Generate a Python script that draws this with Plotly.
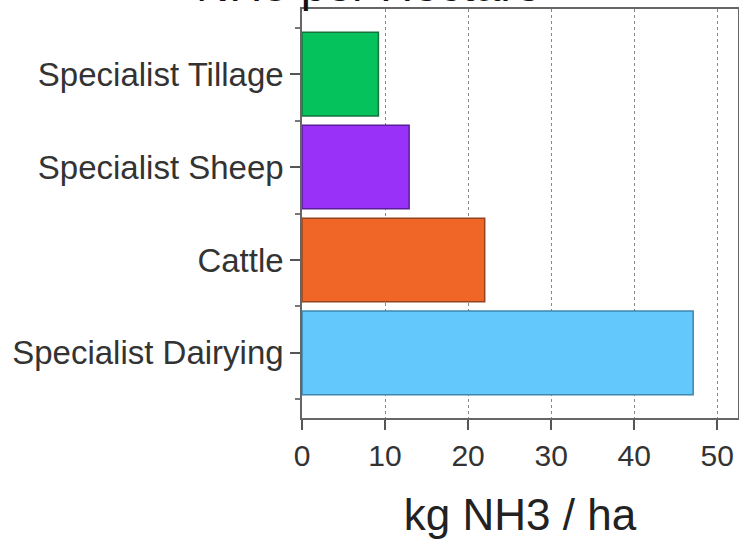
import plotly.graph_objects as go

categories = ["Specialist Dairying", "Cattle", "Specialist Sheep", "Specialist Tillage"]
values = [47.1, 22.0, 12.9, 9.2]
bar_colors = ["#63C8FC", "#EF6626", "#9A31F8", "#05C25C"]
edge_colors = ["#3C86AE", "#93441F", "#5A1E96", "#17733E"]
x_ticks = [0, 10, 20, 30, 40, 50]
title_text = "NH3 per Hectare"
x_title = "kg NH3 / ha"

positions = list(range(len(categories)))

fig = go.Figure(
    go.Bar(
        x=values,
        y=positions,
        orientation="h",
        width=0.9,
        marker=dict(color=bar_colors, line=dict(color=edge_colors, width=1.5)),
    )
)

font_family = "Arial, Liberation Sans, Helvetica, sans-serif"

fig.update_layout(
    width=739,
    height=541,
    paper_bgcolor="white",
    plot_bgcolor="white",
    margin=dict(l=302, r=1, t=9, b=123),
    showlegend=False,
    font=dict(family=font_family, color="#333333"),
    annotations=[
        dict(
            text=title_text,
            xref="paper",
            yref="paper",
            x=(368 - 302) / 436,
            xanchor="center",
            y=1 - 4 / 409,
            yanchor="bottom",
            showarrow=False,
            font=dict(size=46, color="#111111", family=font_family),
        )
    ],
)

fig.update_xaxes(
    automargin=False,
    range=[0, 52.5],
    tickvals=x_ticks,
    ticktext=[str(v) for v in x_ticks],
    ticks="outside",
    ticklen=10,
    tickwidth=1.5,
    tickcolor="#555555",
    tickfont=dict(size=30, color="#333333"),
    showline=True,
    linecolor="#666666",
    linewidth=1.5,
    mirror=True,
    showgrid=True,
    gridcolor="#888888",
    griddash="dot",
    gridwidth=1,
    zeroline=False,
    title=dict(text=x_title, font=dict(size=44, color="#222222"), standoff=28),
)

fig.update_yaxes(
    automargin=False,
    range=[-0.7, 3.7],
    tickvals=positions,
    ticktext=categories,
    ticks="outside",
    ticklen=10,
    tickwidth=1.5,
    tickcolor="#555555",
    tickfont=dict(size=33, color="#333333"),
    showline=True,
    linecolor="#666666",
    linewidth=1.5,
    mirror=True,
    showgrid=False,
    zeroline=False,
    minor=dict(tickvals=[-0.5, 0.5, 1.5, 2.5, 3.5], ticks="outside", ticklen=5, tickcolor="#777777", showgrid=False),
)

fig.write_html(
    "out.html",
    config={"displayModeBar": False},
    post_script="document.body.style.margin='0';",
)
